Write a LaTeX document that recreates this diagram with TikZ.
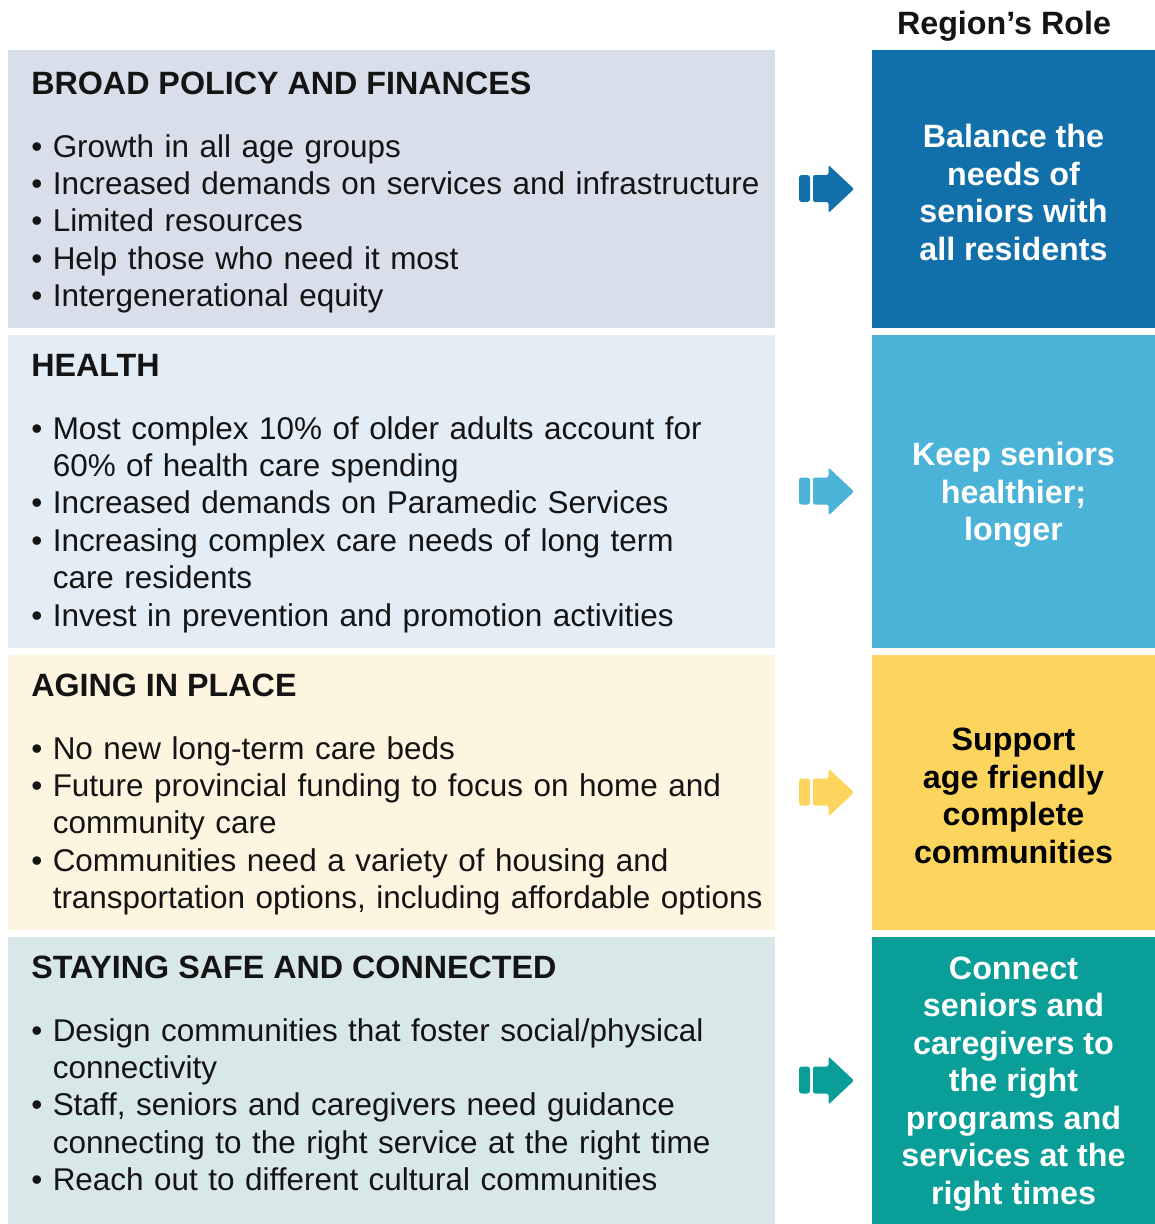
\documentclass[tikz,border=0pt]{standalone}
\usepackage{fontspec}
\setmainfont{Liberation Sans}
\usetikzlibrary{calc}
\definecolor{policybg}{HTML}{D8DEEA}
\definecolor{policyrole}{HTML}{1170AA}
\definecolor{healthbg}{HTML}{E2EDF5}
\definecolor{healthrole}{HTML}{4BB3D8}
\definecolor{placebg}{HTML}{FEF5E0}
\definecolor{placerole}{HTML}{FDD55E}
\definecolor{safebg}{HTML}{D8E8E8}
\definecolor{saferole}{HTML}{0A9E99}
\definecolor{inktext}{HTML}{141414}
\newcommand\hangline{\hphantom{•\ }}

\begin{document}
\begin{tikzpicture}[x=0.75pt,y=-0.75pt,
    panel/.style={inner sep=0,outer sep=0,anchor=north west,minimum width=575.25pt},
    rolebox/.style={inner sep=0,outer sep=0,anchor=north west,minimum width=212.25pt},
    head/.style={anchor=base west,inner sep=0,text=inktext,font=\bfseries\fontsize{24.2}{28.1}\selectfont},
    items/.style={anchor=base west,inner sep=0,text=inktext,text width=565pt,align=left,
        font=\fontsize{23.6}{28.1}\selectfont},
    role/.style={inner sep=0,align=center,text=white,yshift=-2.5pt,
        font=\bfseries\fontsize{24.2}{28.1}\selectfont},
    roleArrow/.pic={
        \fill[rounded corners=2] (-24.5,-14) rectangle (-13.5,13);
        \fill[rounded corners=1.5] (-10.5,-14) -- (5,-14) -- (5,-24) -- (30.5,0)
            -- (5,24) -- (5,13) -- (-10.5,13) -- cycle;
    }]
    \useasboundingbox (0,0) rectangle (1155,1224);

    \node[head,anchor=base] (roleTitle) at (1004,34) {Region's Role};

    \node[panel,fill=policybg,minimum height=208.5pt] (policy) at (8,50) {};
    \node[rolebox,fill=policyrole,minimum height=208.5pt] (balance) at (872,50) {};
    \node[head] (policyHead) at (31,94) {BROAD POLICY AND FINANCES};
    \node[items] (policyList) at (31,157) {• Growth in all age groups\\
        • Increased demands on services and infrastructure\\
        • Limited resources\\
        • Help those who need it most\\
        • Intergenerational equity};
    \node[role] (balanceText) at (balance) {Balance the\\needs of\\seniors with\\all residents};
    \pic[policyrole] at ($(policy.east)!0.5!(balance.west)$) {roleArrow};

    \node[panel,fill=healthbg,minimum height=234.75pt] (health) at (8,335) {};
    \node[rolebox,fill=healthrole,minimum height=234.75pt] (healthier) at (872,335) {};
    \node[head] (healthHead) at (31,376) {HEALTH};
    \node[items] (healthList) at (31,439) {• Most complex 10\% of older adults account for\\
        \hangline 60\% of health care spending\\
        • Increased demands on Paramedic Services\\
        • Increasing complex care needs of long term\\
        \hangline care residents\\
        • Invest in prevention and promotion activities};
    \node[role] (healthierText) at (healthier) {Keep seniors\\healthier;\\longer};
    \pic[healthrole] at ($(health.east)!0.5!(healthier.west)$) {roleArrow};

    \node[panel,fill=placebg,minimum height=206.25pt] (place) at (8,655) {};
    \node[rolebox,fill=placerole,minimum height=206.25pt] (friendly) at (872,655) {};
    \node[head] (placeHead) at (31,696) {AGING IN PLACE};
    \node[items] (placeList) at (31,759) {• No new long-term care beds\\
        • Future provincial funding to focus on home and\\
        \hangline community care\\
        • Communities need a variety of housing and\\
        \hangline transportation options, including affordable options};
    \node[role,text=black] (friendlyText) at (friendly) {Support\\age friendly\\complete\\communities};
    \pic[placerole] at ($(place.east)!0.5!(friendly.west)$) {roleArrow};

    \node[panel,fill=safebg,minimum height=215.25pt] (safe) at (8,937) {};
    \node[rolebox,fill=saferole,minimum height=215.25pt] (connect) at (872,937) {};
    \node[head] (safeHead) at (31,978) {STAYING SAFE AND CONNECTED};
    \node[items] (safeList) at (31,1041) {• Design communities that foster social/physical\\
        \hangline connectivity\\
        • Staff, seniors and caregivers need guidance\\
        \hangline connecting to the right service at the right time\\
        • Reach out to different cultural communities};
    \node[role] (connectText) at (connect) {Connect\\seniors and\\caregivers to\\the right\\programs and\\services at the\\right times};
    \pic[saferole] at ($(safe.east)!0.5!(connect.west)$) {roleArrow};
\end{tikzpicture}
\end{document}
